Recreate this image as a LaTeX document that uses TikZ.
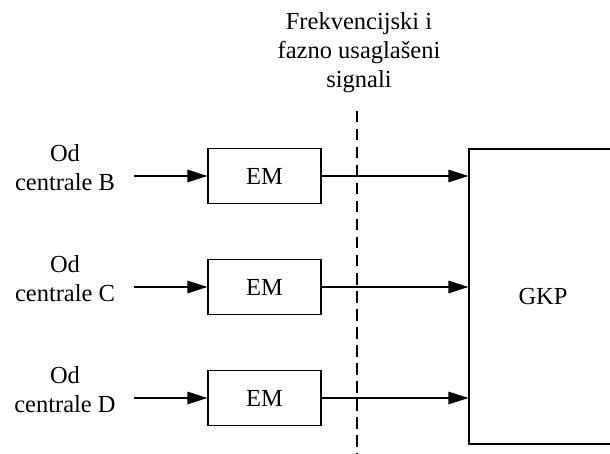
\documentclass[tikz,border=0pt]{standalone}
\usepackage{fontspec}
\setmainfont{Liberation Serif}
\usetikzlibrary{arrows.meta}
\begin{document}
\begin{tikzpicture}[x=1pt,y=-1pt,
  every node/.style={font=\fontsize{24.5}{29}\selectfont},
  blockbox/.style={draw, line width=1.2pt, minimum width=113pt, minimum height=55pt, inner sep=0pt},
  bigbox/.style={draw, line width=1.2pt, minimum width=148pt, minimum height=295pt, inner sep=0pt},
  label/.style={align=center, inner sep=0pt},
  sig/.style={line width=1.2pt, -{Triangle[length=20pt,width=12.5pt]}},
  divider/.style={line width=1.2pt, dash pattern=on 11.5pt off 6.5pt}]
\useasboundingbox (0,0) rectangle (610,454);

% receiving equipment
\node[bigbox] (gkp) at (543,296.5) {GKP};

% input blocks
\node[blockbox] (em1) at (264.5,176) {EM};
\node[blockbox] (em2) at (264.5,287) {EM};
\node[blockbox] (em3) at (264.5,398) {EM};

% source labels
\node[label] (lb) at (65,168) {Od\\centrale B};
\node[label] (lc) at (65,279) {Od\\centrale C};
\node[label] (ld) at (65,390) {Od\\centrale D};

\coordinate (in1) at (134,176);
\coordinate (in2) at (134,287);
\coordinate (in3) at (134,398);

\draw[sig] (in1) -- (em1.west);
\draw[sig] (in2) -- (em2.west);
\draw[sig] (in3) -- (em3.west);

\draw[sig] (em1.east) -- (em1.east -| gkp.west);
\draw[sig] (em2.east) -- (em2.east -| gkp.west);
\draw[sig] (em3.east) -- (em3.east -| gkp.west);

% synchronisation boundary
\node[label] (title) at (359,52.3) {Frekvencijski i\\fazno usaglašeni\\signali};
\coordinate (dtop) at (357,111);
\coordinate (dbot) at (357,456);
\draw[divider] (dtop) -- (dbot);
\end{tikzpicture}
\end{document}
